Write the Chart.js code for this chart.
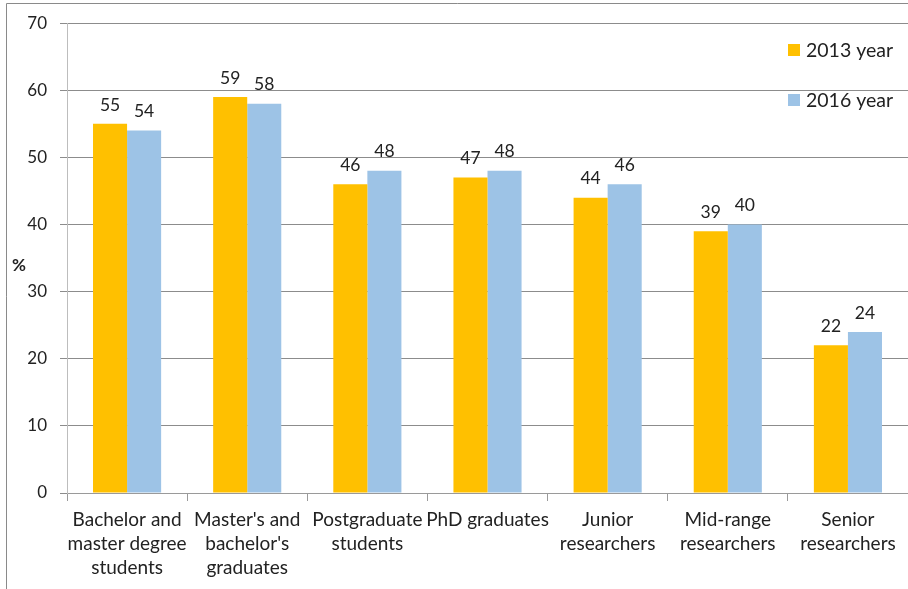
<!DOCTYPE html>
<html>
<head>
<meta charset="utf-8">
<script src="https://cdn.jsdelivr.net/npm/chart.js@4/dist/chart.umd.min.js"></script>
<style>
  body { margin: 0; background: #fff; }
  #wrap { width: 908px; height: 589px; position: relative; }
</style>
</head>
<body>
<div id="wrap"><canvas id="chart" width="908" height="589"></canvas></div>
<script>
// categories and values
const categories = [
	["Bachelor and", "master degree", "students"],
	["Master's and", "bachelor's", "graduates"],
	["Postgraduate", "students"],
	["PhD graduates"],
	["Junior", "researchers"],
	["Mid-range", "researchers"],
	["Senior", "researchers"],
];
const year2013 = [55, 59, 46, 47, 44, 39, 22];
const year2016 = [54, 58, 48, 48, 46, 40, 24];
const seriesNames = ["2013 year", "2016 year"];
const yTicks = [0, 10, 20, 30, 40, 50, 60, 70];

const FONT = "Lato, 'Liberation Sans', sans-serif";
const TEXT = "#222";

// frame, % title, value labels and legend
const extras = {
	id: "extras",
	beforeDraw(chart) {
		const ctx = chart.ctx;
		ctx.save();
		ctx.fillStyle = "#fff";
		ctx.fillRect(0, 0, chart.width, chart.height);
		ctx.strokeStyle = "#8a8a8a";
		ctx.lineWidth = 1;
		ctx.beginPath();
		ctx.moveTo(6.5, chart.height);
		ctx.lineTo(6.5, 3.5);
		ctx.lineTo(chart.width, 3.5);
		ctx.stroke();
		ctx.restore();
	},
	afterDatasetsDraw(chart) {
		const ctx = chart.ctx;
		ctx.save();
		ctx.fillStyle = TEXT;
		ctx.font = "17.5px " + FONT;
		ctx.textAlign = "center";
		ctx.textBaseline = "middle";
		chart.data.datasets.forEach((ds, i) => {
			chart.getDatasetMeta(i).data.forEach((bar, j) => {
				ctx.fillText(ds.data[j], bar.x, bar.y - 19);
			});
		});
		// y title
		ctx.font = "bold 17px " + FONT;
		ctx.fillText("%", 19, 266);
		// legend
		ctx.textAlign = "left";
		ctx.font = "19.5px " + FONT;
		chart.data.datasets.forEach((ds, i) => {
			const y = 50 + i * 50;
			ctx.fillStyle = ds.backgroundColor;
			ctx.fillRect(788, y - 6, 12, 12);
			ctx.fillStyle = TEXT;
			ctx.fillText(ds.label, 806, y + 1);
		});
		ctx.restore();
	}
};

new Chart(document.getElementById("chart"), {
	type: "bar",
	data: {
		labels: categories,
		datasets: [
			{ label: seriesNames[0], data: year2013, backgroundColor: "#FFC000" },
			{ label: seriesNames[1], data: year2016, backgroundColor: "#9DC3E6" },
		]
	},
	options: {
		responsive: false,
		animation: false,
		layout: { padding: { left: 0, top: 21, right: 0, bottom: 0 } },
		datasets: { bar: { barPercentage: 1, categoryPercentage: 0.567 } },
		plugins: { legend: { display: false }, tooltip: { enabled: false } },
		scales: {
			x: {
				grid: { offset: true, drawOnChartArea: false, tickLength: 8, color: "#9a9a9a" },
				border: { color: "#9a9a9a" },
				ticks: { color: TEXT, font: { family: FONT, size: 19, lineHeight: 1.27 }, padding: 7, maxRotation: 0, autoSkip: false },
				afterFit(scale) { scale.height = 96; }
			},
			y: {
				min: 0,
				max: 70,
				afterBuildTicks(scale) { scale.ticks = yTicks.map(v => ({ value: v })); },
				grid: { color: "#8c8c8c", tickLength: 7 },
				border: { color: "#bdbdbd" },
				ticks: { color: TEXT, font: { family: FONT, size: 17 }, padding: 13 },
				afterFit(scale) { scale.width = 67; }
			}
		}
	},
	plugins: [extras]
});
</script>
</body>
</html>
